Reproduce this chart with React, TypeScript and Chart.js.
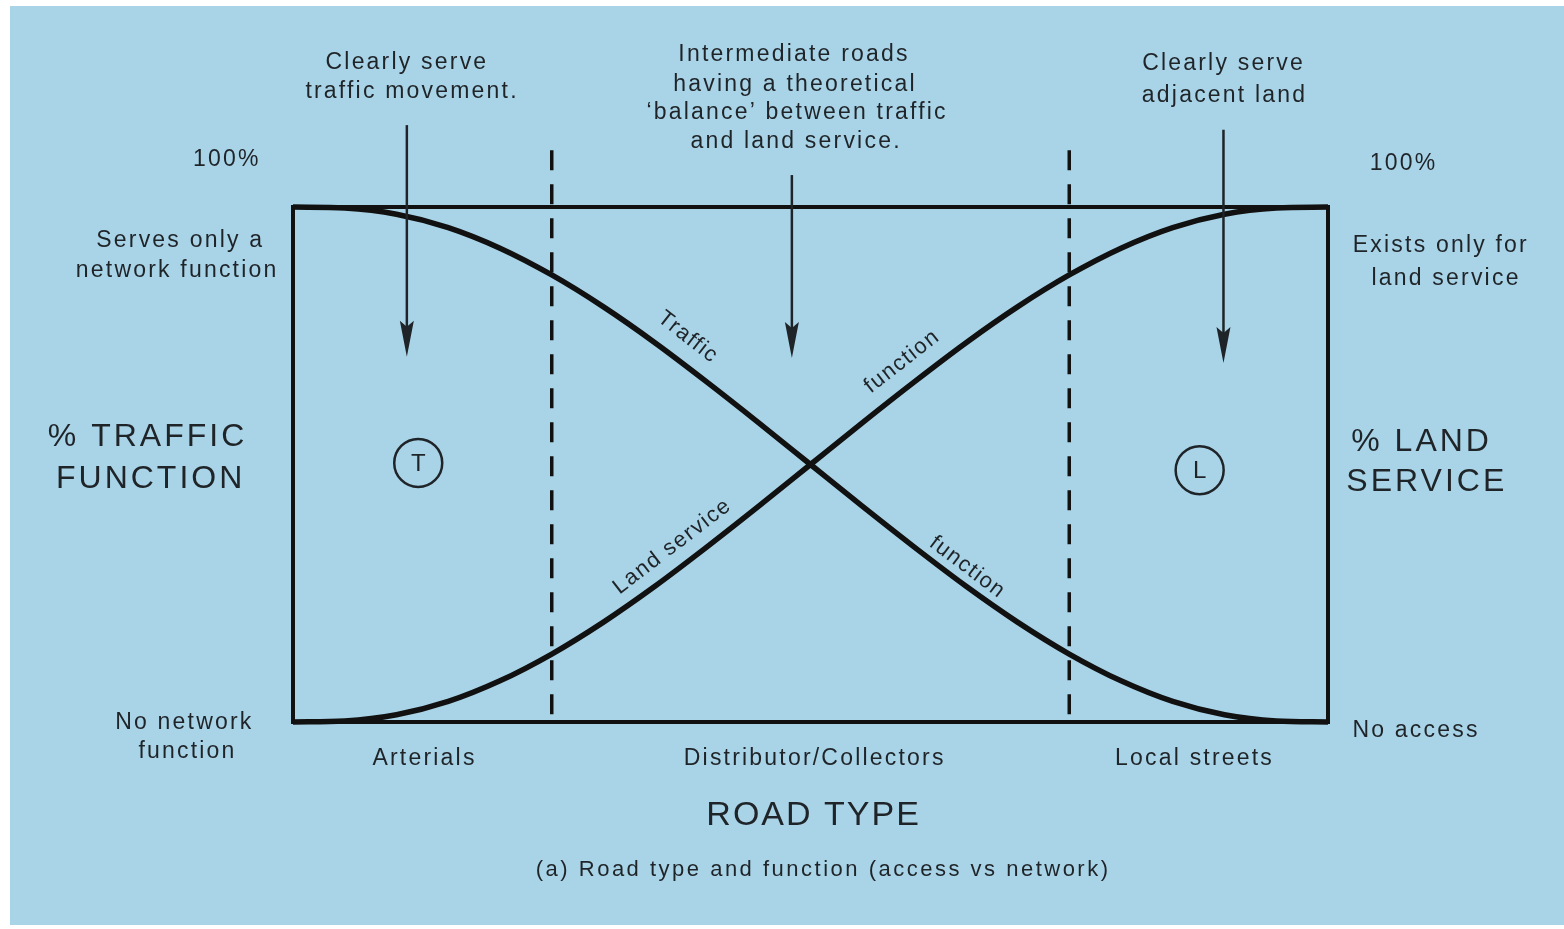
import React, { useEffect, useRef } from "react";
import { Chart, registerables } from "chart.js";

Chart.register(...registerables);

// ---- data ----
const roadShare = [0, 5, 10, 15, 20, 25, 30, 35, 40, 45, 50, 55, 60, 65, 70, 75, 80, 85, 90, 95, 100];
const trafficFunction = [100, 99.8, 98.6, 96, 92, 86.8, 80.6, 73.6, 66, 58.1, 50, 41.9, 34, 26.4, 19.4, 13.2, 8, 4, 1.4, 0.2, 0];
const landService = [0, 0.2, 1.4, 4, 8, 13.2, 19.4, 26.4, 34, 41.9, 50, 58.1, 66, 73.6, 80.6, 86.8, 92, 96, 98.6, 99.8, 100];
const dividerPositions = [25, 75];
const roadTypeLabels = ["Arterials", "Distributor/Collectors", "Local streets"];
const roadTypeCenters = [12.6, 50.3, 87.0];

// annotations: [text, x, y, fontSize, letterSpacing, rotationDeg]
type Note = [string, number, number, number, number, number];
const notes: Note[] = [
  ["Clearly serve", 10.9, 128.0, 23, 2.2, 0],
  ["traffic movement.", 11.4, 122.3, 23, 2.2, 0],
  ["Intermediate roads", 48.3, 129.5, 23, 2.2, 0],
  ["having a theoretical", 48.4, 123.7, 23, 2.2, 0],
  ["\u2018balance\u2019 between traffic", 48.6, 118.3, 23, 2.2, 0],
  ["and land service.", 48.5, 112.6, 23, 2.2, 0],
  ["Clearly serve", 89.8, 127.8, 23, 2.2, 0],
  ["adjacent land", 89.9, 121.7, 23, 2.2, 0],
  ["100%", -6.5, 109.1, 23, 2.2, 0],
  ["100%", 107.2, 108.5, 23, 2.2, 0],
  ["Serves only a", -11.0, 93.4, 23, 2.2, 0],
  ["network function", -11.3, 87.6, 23, 2.2, 0],
  ["Exists only for", 110.8, 92.4, 23, 2.2, 0],
  ["land service", 111.3, 86.0, 23, 2.2, 0],
  ["% TRAFFIC", -14.2, 55.3, 32, 3, 0],
  ["FUNCTION", -13.9, 47.2, 32, 3, 0],
  ["% LAND", 108.9, 54.4, 32, 3, 0],
  ["SERVICE", 109.4, 46.6, 32, 3, 0],
  ["No network", -10.6, -0.2, 23, 2.2, 0],
  ["function", -10.3, -5.8, 23, 2.2, 0],
  ["No access", 108.4, -1.7, 23, 2.2, 0],
  ["ROAD TYPE", 50.2, -18.1, 34, 2, 0],
  ["(a) Road type and function (access vs network)", 51.1, -28.7, 22, 2.5, 0],
  ["Traffic", 38.1, 74.8, 22, 1.5, 38],
  ["function", 58.8, 69.9, 22, 1.5, -38],
  ["Land service", 36.6, 34.0, 22, 1.5, -37.5],
  ["function", 65.1, 30.1, 22, 1.5, 37],
];

// arrows: [x, yStart, yTip]
const arrows: [number, number, number][] = [
  [11.0, 115.9, 70.9],
  [48.2, 106.2, 70.7],
  [89.9, 115.0, 69.7],
];

// circled markers: [letter, x, y]
const markers: [string, number, number][] = [
  ["T", 12.1, 50.3],
  ["L", 87.6, 48.9],
];

const INK = "#1f2428";
const FONT = '"Liberation Sans", Arial, Helvetica, sans-serif';

const diagramPlugin = {
  id: "diagram",
  beforeDraw(chart: any) {
    const ctx = chart.ctx;
    ctx.save();
    ctx.fillStyle = "#ffffff";
    ctx.fillRect(0, 0, chart.width, chart.height);
    ctx.fillStyle = "#a9d4e8";
    ctx.fillRect(10, 6, chart.width - 10, chart.height - 10);
    ctx.restore();
  },
  afterDatasetsDraw(chart: any) {
    const ctx = chart.ctx;
    const xs = chart.scales.x;
    const ys = chart.scales.y;
    const px = (v: number) => xs.getPixelForValue(v);
    const py = (v: number) => ys.getPixelForValue(v);
    const a = chart.chartArea;
    ctx.save();

    // frame
    ctx.strokeStyle = "#111";
    ctx.lineWidth = 4;
    ctx.strokeRect(a.left, a.top, a.right - a.left, a.bottom - a.top);

    // dashed dividers
    ctx.lineWidth = 3.5;
    ctx.setLineDash([20, 14]);
    dividerPositions.forEach((d) => {
      ctx.beginPath();
      ctx.moveTo(px(d), py(111));
      ctx.lineTo(px(d), py(0));
      ctx.stroke();
    });
    ctx.setLineDash([]);

    // arrows
    ctx.strokeStyle = INK;
    ctx.fillStyle = INK;
    arrows.forEach(([x, y0, y1]) => {
      const X = px(x);
      const Y0 = py(y0);
      const Y1 = py(y1);
      ctx.lineWidth = 2.5;
      ctx.beginPath();
      ctx.moveTo(X, Y0);
      ctx.lineTo(X, Y1 - 20);
      ctx.stroke();
      ctx.beginPath();
      ctx.moveTo(X, Y1);
      ctx.lineTo(X - 7, Y1 - 36);
      ctx.lineTo(X, Y1 - 30);
      ctx.lineTo(X + 7, Y1 - 36);
      ctx.closePath();
      ctx.fill();
    });

    // circled markers
    markers.forEach(([t, x, y]) => {
      ctx.lineWidth = 2.5;
      ctx.beginPath();
      ctx.arc(px(x), py(y), 24, 0, Math.PI * 2);
      ctx.stroke();
      ctx.font = `24px ${FONT}`;
      ctx.textAlign = "center";
      ctx.textBaseline = "middle";
      ctx.fillText(t, px(x), py(y) + 1);
    });

    // texts
    ctx.fillStyle = INK;
    ctx.textAlign = "center";
    ctx.textBaseline = "middle";
    const drawNote = (text: string, x: number, y: number, size: number, ls: number, rot: number) => {
      ctx.save();
      ctx.translate(px(x), py(y));
      ctx.rotate((rot * Math.PI) / 180);
      ctx.font = `${size}px ${FONT}`;
      (ctx as any).letterSpacing = `${ls}px`;
      ctx.fillText(text, ls / 2, 0);
      ctx.restore();
    };
    notes.forEach(([t, x, y, s, ls, r]) => drawNote(t, x, y, s, ls, r));
    roadTypeLabels.forEach((t, i) => drawNote(t, roadTypeCenters[i], -7.2, 23, 2.2, 0));
    ctx.restore();
  },
};

export default function App() {
  const canvasRef = useRef<HTMLCanvasElement | null>(null);

  useEffect(() => {
    if (!canvasRef.current) return;
    const chart = new Chart(canvasRef.current, {
      type: "line",
      data: {
        datasets: [
          {
            label: "Traffic function",
            data: roadShare.map((x, i) => ({ x, y: trafficFunction[i] })),
            borderColor: "#111",
            borderWidth: 5.5,
            pointRadius: 0,
            cubicInterpolationMode: "monotone",
            clip: 10,
          },
          {
            label: "Land service",
            data: roadShare.map((x, i) => ({ x, y: landService[i] })),
            borderColor: "#111",
            borderWidth: 5.5,
            pointRadius: 0,
            cubicInterpolationMode: "monotone",
            clip: 10,
          },
        ],
      } as any,
      options: {
        animation: false,
        responsive: false,
        maintainAspectRatio: false,
        layout: { padding: { left: 293, right: 236, top: 207, bottom: 207 } },
        scales: {
          x: { type: "linear", min: 0, max: 100, display: false },
          y: { type: "linear", min: 0, max: 100, display: false },
        },
        plugins: { legend: { display: false }, tooltip: { enabled: false } },
        events: [],
      } as any,
      plugins: [diagramPlugin],
    });
    return () => chart.destroy();
  }, []);

  return (
    <div style={{ position: "fixed", left: 0, top: 0, width: 1564, height: 929 }}>
      <canvas ref={canvasRef} width={1564} height={929} style={{ width: 1564, height: 929, display: "block" }} />
    </div>
  );
}
